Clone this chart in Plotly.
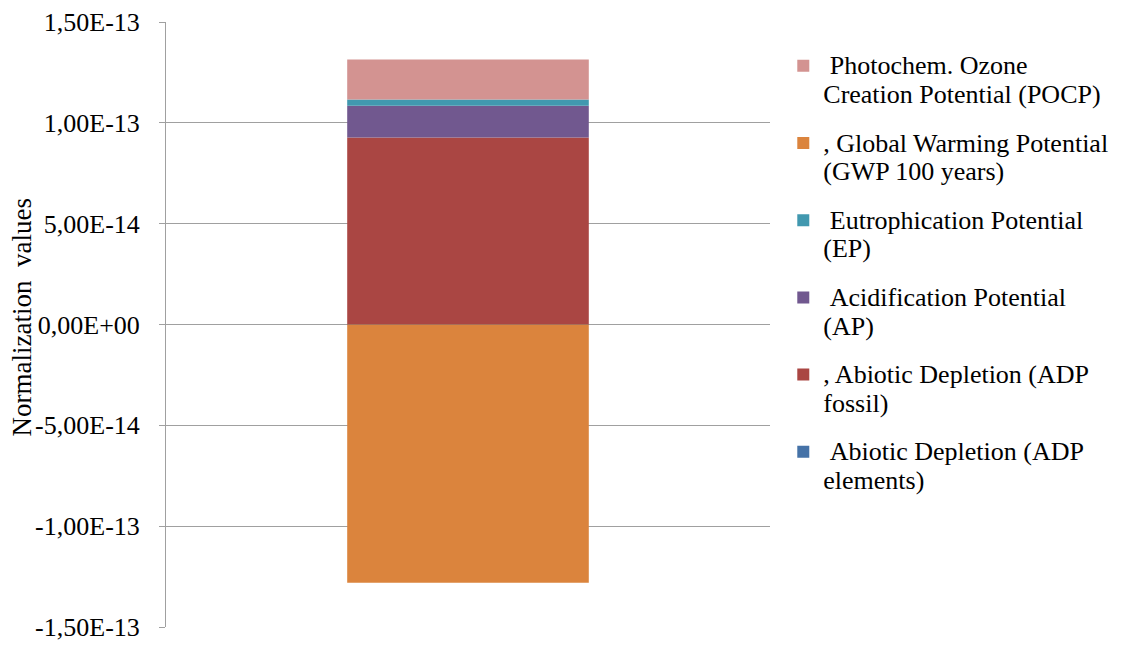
import plotly.graph_objects as go

category = ["Total"]
series_lines = [
    ["\u00a0Abiotic Depletion (ADP", "elements)"],
    [", Abiotic Depletion (ADP", "fossil)"],
    ["\u00a0Acidification Potential", "(AP)"],
    ["\u00a0Eutrophication Potential", "(EP)"],
    [", Global Warming Potential", "(GWP 100 years)"],
    ["\u00a0Photochem. Ozone", "Creation Potential (POCP)"],
]
series_values = [
    [2.0e-17],
    [9.27e-14],
    [1.57e-14],
    [3.2e-15],
    [-1.28e-13],
    [1.98e-14],
]
series_colors = ["#4572A7", "#AA4643", "#71588F", "#4198AF", "#DB843D", "#D39391"]

tick_values = [1.5e-13, 1.0e-13, 5.0e-14, 0.0, -5.0e-14, -1.0e-13, -1.5e-13]
tick_labels = ["1,50E-13", "1,00E-13", "5,00E-14", "0,00E+00", "-5,00E-14", "-1,00E-13", "-1,50E-13"]
y_title = "Normalization&nbsp; values"

FONT = "Liberation Serif"
LEGEND_GLYPH_PX = 26


def legend_label(lines):
    return "<br>".join(
        f"<span style='font-size:{LEGEND_GLYPH_PX}px'>{ln}</span>" for ln in lines
    )


fig = go.Figure()
n = len(series_lines)
for i, (lines, vals, col) in enumerate(zip(series_lines, series_values, series_colors)):
    fig.add_trace(go.Bar(
        x=category, y=vals, name=legend_label(lines), marker_color=col,
        marker_line_width=0, legendgroup=f"g{i}", legendrank=(n - i) * 10,
    ))

fig.update_layout(
    template="none",
    width=1127, height=646,
    barmode="relative",
    bargap=0.6,
    plot_bgcolor="white", paper_bgcolor="white",
    margin=dict(l=166, r=357, t=22, b=19, autoexpand=False),
    font=dict(family=FONT, size=25, color="#000000"),
    showlegend=True,
    legend=dict(
        x=1.022, xanchor="left", y=0.962, yanchor="top",
        traceorder="grouped", tracegroupgap=17,
        font=dict(family=FONT, size=22, color="#000000"),
        valign="top", bgcolor="rgba(0,0,0,0)", borderwidth=0,
    ),
    xaxis=dict(showticklabels=False, showgrid=False, zeroline=False, showline=False,
               ticks="", automargin=False),
    yaxis=dict(
        range=[-1.5e-13, 1.5e-13],
        tickvals=tick_values, ticktext=tick_labels,
        showgrid=True, gridcolor="#A0A0A0", gridwidth=1,
        zeroline=False, automargin=False,
        showline=True, linecolor="#A0A0A0", linewidth=1,
        ticks="outside", ticklen=6, tickcolor="#A0A0A0", tickwidth=1,
        ticklabelstandoff=14,
        tickfont=dict(family=FONT, size=26, color="#000000"),
    ),
    annotations=[dict(
        text=y_title, textangle=-90, showarrow=False,
        xref="paper", yref="paper", x=0, y=0.5,
        xanchor="center", yanchor="middle", xshift=-145, yshift=7,
        font=dict(family=FONT, size=27, color="#000000"),
    )],
)

fig.write_html("out.html")
